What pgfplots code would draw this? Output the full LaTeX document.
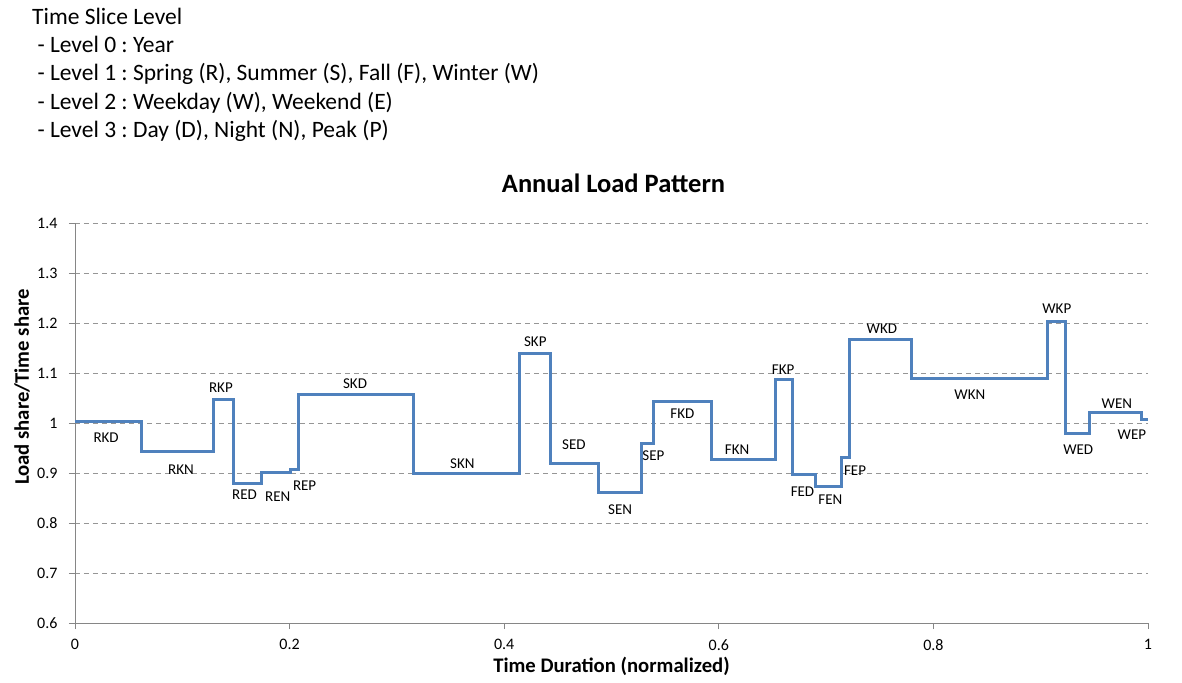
\documentclass[border=0pt]{standalone}
\usepackage{pgfplots}
\pgfplotsset{compat=1.18}
\usepackage{fontspec}
\setmainfont{Carlito}
\frenchspacing
\definecolor{lineblue}{RGB}{79,129,189}
\definecolor{axgray}{RGB}{134,134,134}
\definecolor{gridgray}{RGB}{150,150,150}
\begin{document}
\begin{tikzpicture}
\useasboundingbox (-75pt,-59pt) rectangle (1107pt,623pt);
\node[anchor=north west, align=left, font=\fontsize{23.5}{28.2}\selectfont, inner sep=0pt] at (-43pt,615pt)
{Time Slice Level\\
\ - Level 0 : Year\\
\ - Level 1 : Spring (R), Summer (S), Fall (F), Winter (W)\\
\ - Level 2 : Weekday (W), Weekend (E)\\
\ - Level 3 : Day (D), Night (N), Peak (P)};
\node[font=\fontsize{26.5}{30}\selectfont\bfseries] at (538.5pt,440pt) {Annual Load Pattern};
\begin{axis}[
  scale only axis, width=1073pt, height=400pt,
  xmin=0, xmax=1, ymin=0.6, ymax=1.4,
  axis x line*=bottom, axis y line*=left,
  axis line style={axgray, line width=0.8pt, -},
  xtick={0,0.2,0.4,0.6,0.8,1},
  ytick={0.6,0.7,0.8,0.9,1,1.1,1.2,1.3,1.4},
  yticklabels={0.6,0.7,0.8,0.9,1,1.1,1.2,1.3,1.4},
  xticklabels={0,0.2,0.4,0.6,0.8,1},
  tick align=outside, major tick length=6pt,
  tick style={axgray, line width=0.8pt},
  ymajorgrids, grid style={gridgray, line width=0.7pt, dash pattern=on 5pt off 4pt},
  ticklabel style={font=\fontsize{16}{18}\selectfont},
  /pgf/number format/assume math mode=true,
  xticklabel style={yshift=-7pt},
  yticklabel style={xshift=-8pt},
  xlabel={Time Duration (normalized)},
  ylabel={Load share/Time share},
  xlabel style={at={(axis description cs:0.5,-0.108)}, anchor=center, font=\fontsize{20.7}{24}\selectfont\bfseries},
  ylabel style={at={(axis description cs:-0.0494,0.59)}, anchor=center, font=\fontsize{20.7}{24}\selectfont\bfseries},
  clip=false,
]
\addplot[const plot, lineblue, line width=3pt, line join=miter] coordinates {
(0.0000,1.003)
(0.0624,0.943)
(0.1289,1.046)
(0.1475,0.879)
(0.1740,0.901)
(0.2004,0.906)
(0.2081,1.056)
(0.3159,0.899)
(0.4147,1.138)
(0.4436,0.919)
(0.4881,0.861)
(0.5281,0.959)
(0.5396,1.043)
(0.5934,0.927)
(0.6524,1.086)
(0.6685,0.897)
(0.6903,0.873)
(0.7139,0.931)
(0.7214,1.167)
(0.7798,1.089)
(0.9065,1.203)
(0.9233,0.978)
(0.9453,1.021)
(0.9935,1.007)
(1.0000,1.007)
};
\begin{scope}[every node/.style={font=\fontsize{15}{17}\selectfont}]
\node at (axis cs:0.029,0.970) {RKD};
\node at (axis cs:0.0988,0.906) {RKN};
\node at (axis cs:0.136,1.070) {RKP};
\node at (axis cs:0.158,0.856) {RED};
\node at (axis cs:0.189,0.852) {REN};
\node at (axis cs:0.214,0.874) {REP};
\node at (axis cs:0.261,1.078) {SKD};
\node at (axis cs:0.361,0.918) {SKN};
\node at (axis cs:0.429,1.162) {SKP};
\node at (axis cs:0.465,0.956) {SED};
\node at (axis cs:0.508,0.826) {SEN};
\node at (axis cs:0.539,0.934) {SEP};
\node at (axis cs:0.566,1.018) {FKD};
\node at (axis cs:0.617,0.946) {FKN};
\node at (axis cs:0.660,1.106) {FKP};
\node at (axis cs:0.678,0.862) {FED};
\node at (axis cs:0.704,0.846) {FEN};
\node at (axis cs:0.727,0.904) {FEP};
\node at (axis cs:0.752,1.188) {WKD};
\node at (axis cs:0.834,1.056) {WKN};
\node at (axis cs:0.915,1.228) {WKP};
\node at (axis cs:0.935,0.946) {WED};
\node at (axis cs:0.971,1.038) {WEN};
\node at (axis cs:0.985,0.976) {WEP};
\end{scope}
\end{axis}
\end{tikzpicture}
\end{document}
